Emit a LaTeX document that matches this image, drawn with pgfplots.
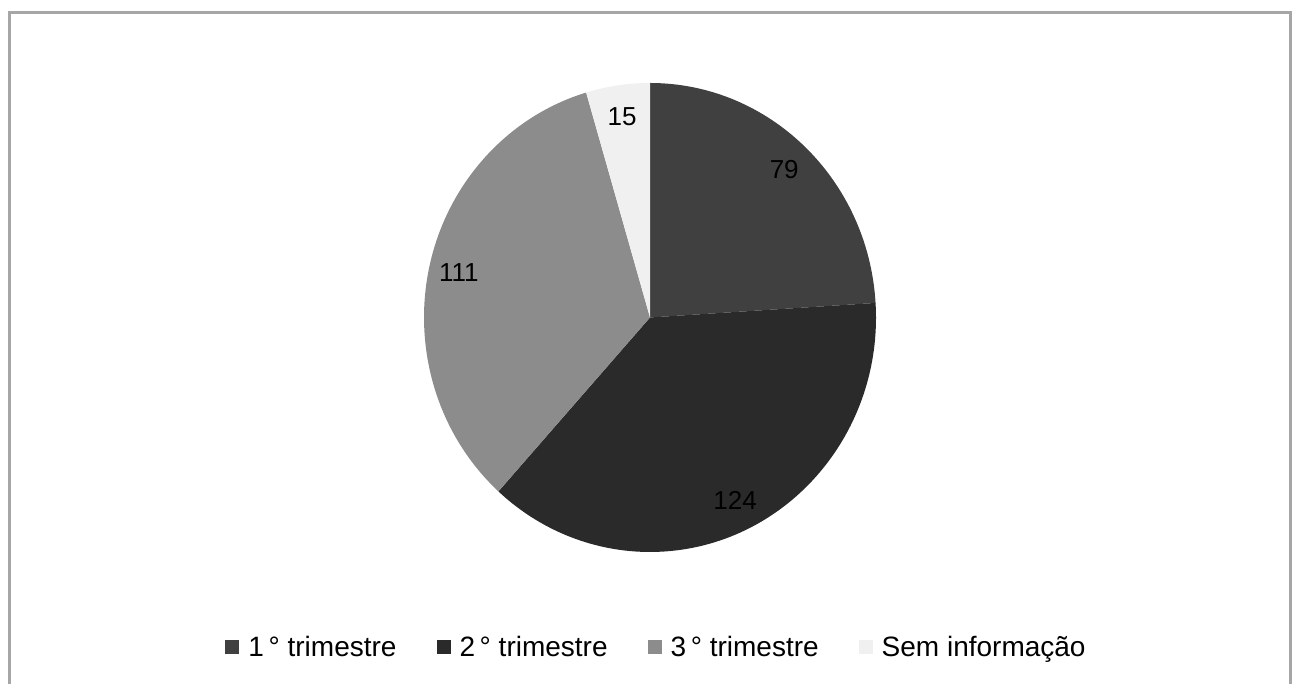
\documentclass[border=0pt]{standalone}
\usepackage{pgfplots}
\pgfplotsset{compat=1.18}
\usepackage{fontspec}
\setmainfont{Liberation Sans}
\definecolor{s1}{HTML}{404040}
\definecolor{s2}{HTML}{2A2A2A}
\definecolor{s3}{HTML}{8C8C8C}
\definecolor{s4}{HTML}{F0F0F0}
\definecolor{frame}{HTML}{A6A6A6}
\begin{document}
\begin{tikzpicture}
\begin{axis}[
  at={(0,0)}, anchor=south west,
  x=1pt, y=1pt, xmin=0, xmax=1295, ymin=0, ymax=684,
  hide axis, clip=false,
  legend columns=4,
  legend style={draw=none, fill=none, at={(axis cs:656.5,37)}, anchor=center,
    font=\fontsize{28}{32}\selectfont, inner sep=0pt,
    /tikz/every odd column/.append style={column sep=7pt},
    /tikz/every even column/.append style={column sep=38pt}},
  legend image code/.code={\fill[#1,draw=none] (0pt,-7pt) rectangle (14pt,7pt);},
]
\addlegendimage{fill=s1}
\addlegendimage{fill=s2}
\addlegendimage{fill=s3}
\addlegendimage{fill=s4}
\legend{1\,° trimestre, 2\,° trimestre, 3\,° trimestre, Sem informação}
% frame
\draw[frame, line width=3pt] (axis cs:9,0) -- (axis cs:9,671) -- (axis cs:1290,671) -- (axis cs:1290,0);
\coordinate (C) at (axis cs:650,366.5);
\end{axis}
% pie
\gdef\cumval{0}
\foreach \val/\col in {79/s1,124/s2,111/s3,15/s4} {
  \pgfmathsetmacro\angA{90-\cumval/329*360}
  \pgfmathsetmacro\angB{90-(\cumval+\val)/329*360}
  \pgfmathsetmacro\angM{(\angA+\angB)/2}
  \pgfmathsetmacro\xA{226*cos(\angA)}
  \pgfmathsetmacro\yA{234.5*sin(\angA)}
  \pgfmathsetmacro\xM{196*cos(\angM)}
  \pgfmathsetmacro\yM{203*sin(\angM)}
  \fill[\col] (C) -- ++(\xA pt,\yA pt)
     arc[start angle=\angA, end angle=\angB, x radius=226pt, y radius=234.5pt] -- cycle;
  \path (C) ++(\xM pt,\yM pt)
     node[font=\fontsize{26}{30}\selectfont, text=black] {\val};
  \pgfmathsetmacro\newcum{\cumval+\val}
  \xdef\cumval{\newcum}
}
\pgfresetboundingbox
\useasboundingbox (0,0) rectangle (1295pt,684pt);
\end{tikzpicture}
\end{document}
